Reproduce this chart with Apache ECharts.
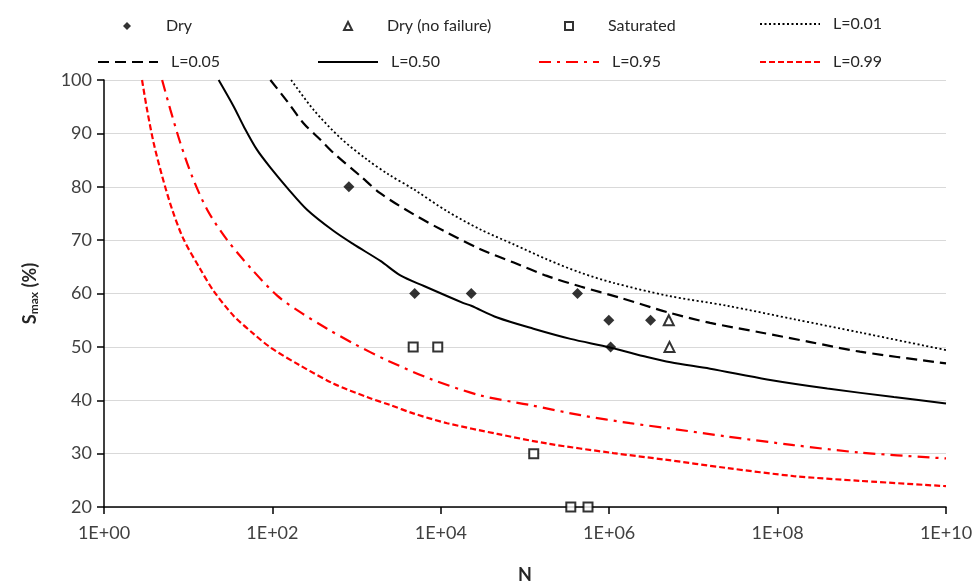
<!DOCTYPE html>
<html><head><meta charset="utf-8">
<script src="https://cdn.jsdelivr.net/npm/echarts@6/dist/echarts.min.js"></script>
<style>html,body{margin:0;padding:0;background:#fff}#c{width:977px;height:586px}</style>
</head><body><div id="c"></div>
<script>
// ---- data ----
const dry = [[810,80],[4900,60],[23000,60],[4.2e5,60],[9.9e5,55],[1.04e6,50],[3.1e6,55]];
const dryNoFailure = [[5.1e6,55],[5.2e6,50]];
const saturated = [[4700,50],[9200,50],[1.27e5,30],[3.5e5,20],[5.6e5,20]];

const L001 = [[167,100],[309,94.4],[646,89.1],[1330,85.1],[2400,82.3],[4790,79.5],[11900,75.4],[29500,72.0],[73500,69.2],[1.82e5,66.4],[4.57e5,63.9],[1.12e6,62.0],[4.9e6,59.6],[2.51e7,57.7],[1.55e8,55.2],[9.5e8,52.7],[1e10,49.4]];
const L005 = [[94.6,100],[150,96.0],[234,91.9],[372,88.8],[535,86.3],[1110,82.0],[1905,78.8],[4790,74.8],[11900,71.4],[29500,68.3],[73500,65.8],[1.82e5,63.3],[4.57e5,61.3],[1.35e6,59.2],[4.9e6,56.5],[1.58e7,54.5],[6.3e7,52.7],[2.45e8,50.9],[9.5e8,49.1],[1e10,46.9]];
const L050 = [[23,100],[34.8,95.0],[45.7,91.3],[65.8,86.9],[99,83.2],[150,79.8],[258,75.7],[535,71.7],[925,69.2],[1920,66.1],[3310,63.4],[6310,61.4],[18600,58.2],[23000,57.7],[46800,55.5],[1.26e5,53.4],[3.47e5,51.5],[1.02e6,49.9],[2.82e6,48.1],[5.37e6,47.1],[1.58e7,45.9],[7.5e7,43.9],[3.9e8,42.2],[2.4e9,40.6],[1e10,39.4]];
const L095 = [[4.9,100],[6.15,94.4],[8.07,88.2],[11.1,82.0],[16.8,75.7],[28.8,70.1],[55,64.8],[114,59.6],[214,56.5],[447,53.4],[925,50.6],[2290,47.5],[7530,44.0],[29500,40.9],[1.15e5,39.1],[4.57e5,37.2],[1.78e6,35.7],[4.8e6,34.8],[2.51e7,33.2],[1.55e8,31.6],[9.5e8,30.2],[1e10,29.1]];
const L099 = [[2.83,100],[3.25,94.4],[3.89,88.2],[4.9,82.0],[6.46,75.7],[8.85,70.1],[14.0,64.5],[20,60.5],[34.7,55.8],[60.3,52.4],[94.6,49.9],[214,46.5],[535,43.1],[1330,40.6],[2510,39.1],[4790,37.5],[11900,35.7],[46800,33.7],[1.82e5,31.9],[1.12e6,30.1],[4.5e6,28.9],[2.51e7,27.3],[1.55e8,25.8],[9.5e8,24.9],[1e10,23.9]];

const xTicks = [1, 1e2, 1e4, 1e6, 1e8, 1e10];
const xTickLabels = ['1E+00','1E+02','1E+04','1E+06','1E+08','1E+10'];
const xMin = 1, xMax = 1e10;
const yMin = 20, yMax = 100, yStep = 10;

// ---- chart ----
const FONT = 'Lato, "Liberation Sans", sans-serif';
const chart = echarts.init(document.getElementById('c'), null, {renderer:'canvas'});

function lineSeries(name, data, color, type, width){
  return {name, type:'line', data, symbol:'none', smooth:0.3, z:3,
    lineStyle:{color, width, type}, itemStyle:{color}, emphasis:{disabled:true}};
}
function legendText(padLeft){
  return {fontFamily:FONT, fontSize:16, color:'#262626', padding:[0,0,0,padLeft]};
}
function markerLegend(name, icon, left, top){
  return {data:[{name, icon}], left, top, itemWidth:8, itemHeight:8, itemGap:0,
    selectedMode:false, textStyle:legendText(30)};
}
function lineLegend(name, left, top){
  return {data:[name], left, top, itemWidth:60, itemHeight:14, itemGap:0,
    selectedMode:false, textStyle:legendText(8),
    itemStyle:{color:'rgba(0,0,0,0)', borderColor:'rgba(0,0,0,0)', borderWidth:0}};
}

chart.setOption({
  animation:false,
  backgroundColor:'#fff',
  grid:{left:104, right:31, top:80, bottom:79, containLabel:false, outerBoundsMode:'none'},
  legend:[
    markerLegend('Dry', 'diamond', 118, 13),
    markerLegend('Dry (no failure)', 'triangle', 338, 13),
    markerLegend('Saturated', 'rect', 559, 13),
    lineLegend('L=0.01', 754, 11),
    lineLegend('L=0.05', 92, 49),
    lineLegend('L=0.50', 312, 49),
    lineLegend('L=0.95', 533, 49),
    lineLegend('L=0.99', 754, 49)
  ],
  xAxis:{type:'log', logBase:10, min:xMin, max:xMax,
    name:'N', nameLocation:'middle', nameGap:59,
    nameTextStyle:{fontFamily:FONT, fontSize:18, fontWeight:'bold', color:'#262626'},
    axisLine:{lineStyle:{color:'#000', width:1.5}},
    axisTick:{show:true, length:7, customValues:xTicks, lineStyle:{color:'#000', width:1.5}},
    minorTick:{show:false},
    splitLine:{show:false},
    axisLabel:{fontFamily:FONT, fontSize:18, color:'#404040', margin:17, customValues:xTicks,
      formatter:function(v){return xTickLabels[xTicks.indexOf(v)] ?? '';}}
  },
  yAxis:{type:'value', min:yMin, max:yMax, interval:yStep,
    name:'{s|S}{sub|max}{s| (%)}', nameLocation:'middle', nameGap:64, nameRotate:90,
    nameTextStyle:{rich:{
      s:{fontFamily:FONT, fontSize:18, fontWeight:'bold', color:'#262626'},
      sub:{fontFamily:FONT, fontSize:12, fontWeight:'bold', color:'#262626', padding:[8,0,0,0]}}},
    axisLine:{show:true, lineStyle:{color:'#000', width:1.5}},
    axisTick:{show:true, length:7, lineStyle:{color:'#000', width:1.5}},
    splitLine:{lineStyle:{color:'#d9d9d9', width:1}},
    axisLabel:{fontFamily:FONT, fontSize:18, color:'#404040', margin:12}
  },
  series:[
    {name:'Dry', type:'scatter', data:dry, symbol:'diamond', symbolSize:11, z:5,
      itemStyle:{color:'#000'}},
    {name:'Dry (no failure)', type:'scatter', data:dryNoFailure, symbol:'triangle', symbolSize:10, z:5,
      itemStyle:{color:'#fff', borderColor:'#000', borderWidth:2}},
    {name:'Saturated', type:'scatter', data:saturated, symbol:'rect', symbolSize:9, z:5, clip:false,
      itemStyle:{color:'#fff', borderColor:'#000', borderWidth:2}},
    lineSeries('L=0.01', L001, '#000', [2,2.5], 1.8),
    lineSeries('L=0.05', L005, '#000', [11,6], 2.2),
    lineSeries('L=0.50', L050, '#000', 'solid', 2),
    lineSeries('L=0.95', L095, '#ff0000', [12,6,3,6], 2.2),
    lineSeries('L=0.99', L099, '#ff0000', [6,3], 2.2)
  ]
});
</script></body></html>
